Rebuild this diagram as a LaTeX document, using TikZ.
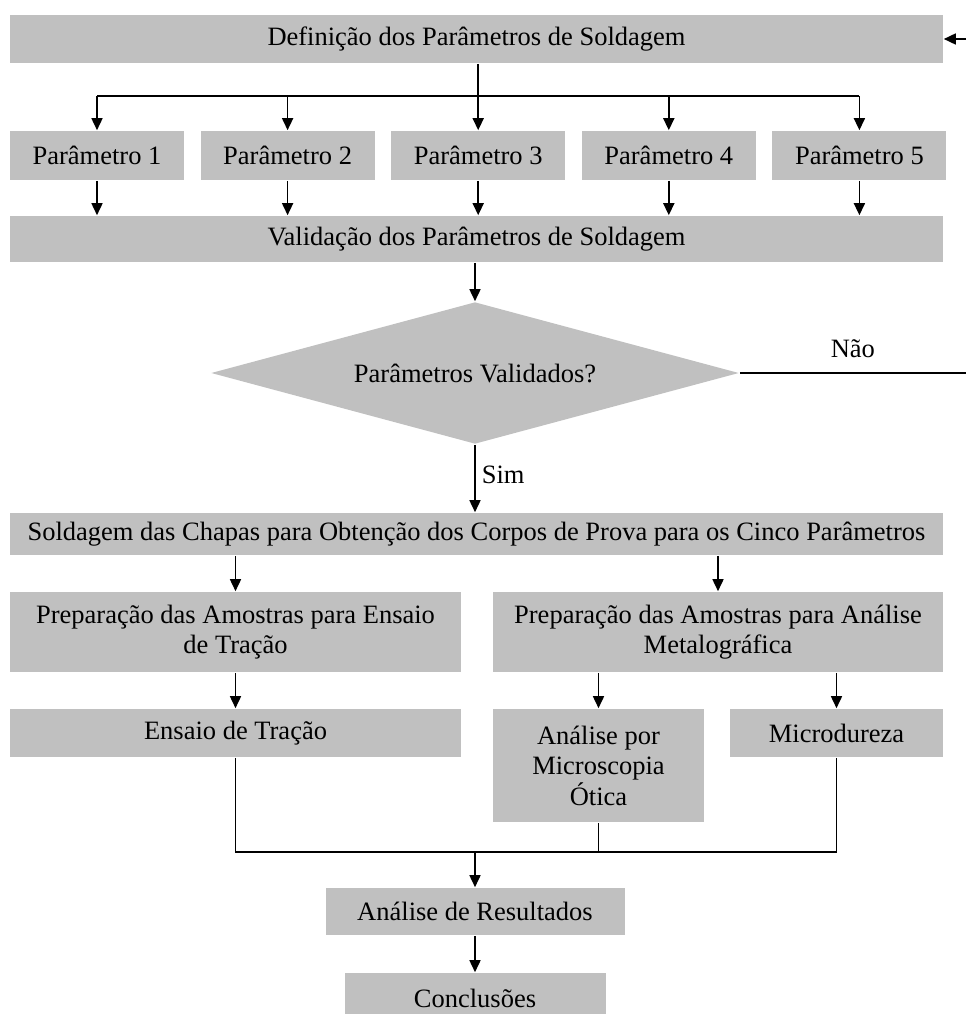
\documentclass[tikz,border=0pt]{standalone}
\usepackage{fontspec}
\setmainfont{Liberation Serif}
\usetikzlibrary{positioning,shapes.geometric,arrows.meta}
\definecolor{boxgray}{RGB}{192,192,192}

\begin{document}
\begin{tikzpicture}[
    x=1pt, y=-1pt,
    node distance=15pt,
    line width=1.6pt,
    font=\fontsize{26.5}{30.5}\selectfont,
    >={Triangle[length=12pt,width=11pt]},
    box/.style={rectangle, fill=boxgray, inner sep=0pt, align=center,
                minimum width=#1},
    decision/.style={diamond, fill=boxgray, inner sep=0pt, aspect=3.77,
                     minimum width=528pt, minimum height=142pt},
    lbl/.style={inner sep=2pt}
]
\useasboundingbox (0,0) rectangle (966,1014);

% Top: definition and the five parameters
\node[box=933pt, minimum height=48pt] (def) at (476.5,39) {Definição dos Parâmetros de Soldagem};
\node[box=174pt, minimum height=49pt] (p1) at (97,155.5) {Parâmetro 1};
\node[box=174pt, minimum height=49pt, right=of p1] (p2) {Parâmetro 2};
\node[box=174pt, minimum height=49pt, right=of p2] (p3) {Parâmetro 3};
\node[box=174pt, minimum height=49pt, right=of p3] (p4) {Parâmetro 4};
\node[box=174pt, minimum height=49pt, right=of p4] (p5) {Parâmetro 5};
\node[box=933pt, minimum height=46pt] (val) at (476.5,239) {Validação dos Parâmetros de Soldagem};

% Decision
\node[decision] (dec) at (475,373) {Parâmetros Validados?};

% Welding and sample preparation
\node[box=933pt, minimum height=42pt] (sold) at (476.5,534) {Soldagem das Chapas para Obtenção dos Corpos de Prova para os Cinco Parâmetros};
\node[box=451pt, minimum height=80pt] (prepT) at (235.5,632) {Preparação das Amostras para Ensaio\\de Tração};
\node[box=450pt, minimum height=80pt] (prepM) at (718,632) {Preparação das Amostras para Análise\\Metalográfica};

% Tests
\node[box=451pt, minimum height=48pt] (ensT) at (235.5,733) {Ensaio de Tração};
\node[box=211pt, minimum height=113pt] (micO) at (598.5,765.5) {Análise por\\Microscopia\\Ótica};
\node[box=213pt, minimum height=48pt] (micD) at (836.5,733) {Microdureza};

% Results
\node[box=299pt, minimum height=47pt] (res) at (475,911.5) {Análise de Resultados};
\node[box=261pt, minimum height=50pt] (conc) at (475,998) {Conclusões};

\coordinate (bus) at (0,96);
\coordinate (nao) at (966,373);
\coordinate (ret) at (966,39);
\coordinate (jn) at (0,852);

% Connectors
\draw (def.south -| p3.north) -- (p3.north |- bus);
\draw (p1.north |- bus) -- (p5.north |- bus);
\foreach \i in {1,...,5} {
  \draw[->] (p\i.north |- bus) -- (p\i.north);
  \draw[->] (p\i.south) -- (p\i.south |- val.north);
}
\draw[->] (ret) -- (def.east);
\draw[->] (val.south -| dec.north) -- (dec.north);
\draw (dec.east) -- (nao) node[lbl, midway, above=12pt] {Não};
\draw[->] (dec.south) -- (dec.south |- sold.north) node[lbl, pos=0.45, right=4pt] {Sim};
\draw[->] (prepT.north |- sold.south) -- (prepT.north);
\draw[->] (prepM.north |- sold.south) -- (prepM.north);
\draw[->] (prepT.south) -- (ensT.north);
\draw[->] (micO.north |- prepM.south) -- (micO.north);
\draw[->] (micD.north |- prepM.south) -- (micD.north);
\draw (ensT.south) -- (ensT.south |- jn) -- (micD.south |- jn) -- (micD.south);
\draw (micO.south) -- (micO.south |- jn);
\draw[->] (res.north |- jn) -- (res.north);
\draw[->] (res.south) -- (conc.north);

\end{tikzpicture}
\end{document}
